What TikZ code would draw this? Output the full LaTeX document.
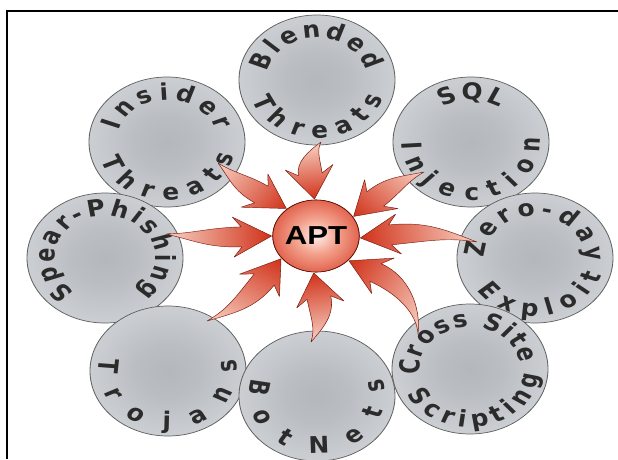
\documentclass[tikz,border=0pt]{standalone}
\usepackage{fontspec}
\usetikzlibrary{decorations.text,shadings}
\newfontfamily\discfont{DejaVu Sans Condensed}
\newfontfamily\aptfont{Liberation Sans}
\newcommand\disctextfont{\discfont\bfseries\fontsize{23pt}{23pt}\selectfont}

\definecolor{disctext}{HTML}{2B2B2B}
\definecolor{discA}{HTML}{B4B8BD}
\definecolor{discB}{HTML}{BABEC3}
\definecolor{discC}{HTML}{D1D4D7}
\definecolor{discD}{HTML}{ECEDEE}
\definecolor{discE}{HTML}{F9F9F9}
\definecolor{discedge}{HTML}{606060}
\definecolor{aptcore}{HTML}{FFEFEA}
\definecolor{aptlight}{HTML}{F3A38F}
\definecolor{aptred}{HTML}{D9432C}
\definecolor{aptdark}{HTML}{A0160C}
\definecolor{aptedge}{HTML}{5E0C06}
\definecolor{arrowhead}{HTML}{D0321A}
\definecolor{arrowmid}{HTML}{E45C40}
\definecolor{arrowtail}{HTML}{F8D0C2}
\definecolor{arrowedge}{HTML}{7E1C10}

\pgfdeclareradialshading{discshade}{\pgfpoint{0bp}{0bp}}{%
  color(0bp)=(discA); color(10bp)=(discB); color(30bp)=(discC); color(45bp)=(discD); color(50bp)=(discE)}
\pgfdeclareradialshading{aptshade}{\pgfpoint{0bp}{0bp}}{%
  color(0bp)=(aptcore); color(12bp)=(aptlight); color(32bp)=(aptred); color(50bp)=(aptdark)}

\tikzset{
  disc/.style={circle, minimum size=130pt, inner sep=0pt, shade, shading=discshade,
    draw=discedge, line width=0.7pt},
  aptball/.style={circle, minimum size=72pt, inner sep=0pt,
    shade, shading=aptshade, draw=aptedge, line width=0.6pt, text=black,
    font=\aptfont\bfseries\fontsize{26pt}{26pt}\selectfont},
  arrowbody/.style={left color=arrowhead, middle color=arrowmid, right color=arrowtail,
    draw=arrowedge, line width=0.45pt, line join=round},
  frame/.style={line width=2.4pt, black}
}

% curved word on a disc: node, start angle, end angle, radius, word
\newcommand\discword[5]{%
  \path[decorate, decoration={text along path, text align=fit to path,
      text color=disctext, text={|\disctextfont|#5}}]
    (#1) ++(#2:#4pt) arc[start angle=#2, end angle=#3, radius=#4pt];}

% tapered curved arrow ending on the APT ball:
% angle of the tip on the ball, head axis, tail x, tail y (picture pixels)
\newcommand\aptarrow[4]{%
  \pgfmathsetmacro\arPx{316/1.2+37*cos(#1)}
  \pgfmathsetmacro\arPy{-236+37*sin(#1)}
  \pgfmathsetmacro\arDx{#3/1.2-\arPx}
  \pgfmathsetmacro\arDy{0-#4-\arPy}
  \pgfmathsetmacro\arL{(\arDx)*cos(#2)+(\arDy)*sin(#2)}
  \pgfmathsetmacro\arB{0-(\arDx)*sin(#2)+(\arDy)*cos(#2)}
  \pgfmathsetmacro\arRun{\arL-25}
  \pgfmathsetmacro\arPsi{2*atan2(\arB,\arRun)}
  \pgfmathsetmacro\arA{25+0.45*\arRun}
  \pgfmathsetmacro\arCx{\arL-0.38*\arRun*cos(\arPsi)}
  \pgfmathsetmacro\arCy{\arB-0.38*\arRun*sin(\arPsi)}
  \pgfmathsetmacro\arCt{\arCy+3.6}
  \pgfmathsetmacro\arCb{\arCy-3.6}
  \begin{scope}[transform canvas={shift={(apt.center)}, shift={(#1:37pt)}, rotate=#2}]
    \shadedraw[arrowbody] (0pt,0pt) -- (32pt,20pt) -- (25pt,10pt)
      .. controls (\arA pt,10pt) and (\arCx pt,\arCt pt) .. (\arL pt,\arB pt)
      .. controls (\arCx pt,\arCb pt) and (\arA pt,-10pt) .. (25pt,-10pt)
      -- (32pt,-20pt) -- cycle;
  \end{scope}}

\begin{document}
\begin{tikzpicture}[x=1pt, y=1pt]
\useasboundingbox (0,0) rectangle (618,-459);
\fill[white] (0,0) rectangle (618,-459);

% frame
\draw[frame] (7,-459) -- (7,-11) -- (618,-11);

\begin{scope}[x=0.833333pt, y=1pt, transform canvas={xscale=1.2}]
  % discs
  \node[disc] (blended) at (317,-80)  {};
  \node[disc] (insider) at (167,-142) {};
  \node[disc] (sql)     at (471,-142) {};
  \node[disc] (spear)   at (105,-258) {};
  \node[disc] (zero)    at (535,-258) {};
  \node[disc] (trojans) at (168,-371) {};
  \node[disc] (botnets) at (317,-396) {};
  \node[disc] (cross)   at (470,-369) {};

  % words
  \discword{blended}{168}{14}{42}{Blended}
  \discword{blended}{200}{342}{58}{Threats}
  \discword{insider}{164}{16}{42}{Insider}
  \discword{insider}{198}{346}{58}{Threats}
  \discword{sql}{124}{56}{42}{SQL}
  \discword{sql}{180}{364}{58}{Injection}
  \discword{spear}{234}{-52}{42}{Spear-Phishing}
  \discword{zero}{180}{-4}{42}{Zero-day}
  \discword{zero}{214}{343}{58}{Exploit}
  \discword{cross}{188}{8}{42}{Cross Site}
  \discword{cross}{206}{354}{58}{Scripting}
  \discword{trojans}{168}{372}{58}{Trojans}
  \discword{botnets}{162}{378}{57}{BotNets}

  % centre ball (placed first so the arrows can find it)
  \node[aptball] (apt) at (316,-236) {APT};

  % arrows
  \aptarrow{180}{182}{166}{234}
  \aptarrow{132}{146}{218}{163}
  \aptarrow{92}{98}{321}{142}
  \aptarrow{32}{44}{424}{172}
  \aptarrow{-3}{7}{477}{242}
  \aptarrow{-42}{-28}{418}{334}
  \aptarrow{-93}{-80}{311}{342}
  \aptarrow{218}{236}{207}{321}

  \node[aptball] at (apt.center) {APT};
\end{scope}
\end{tikzpicture}
\end{document}
